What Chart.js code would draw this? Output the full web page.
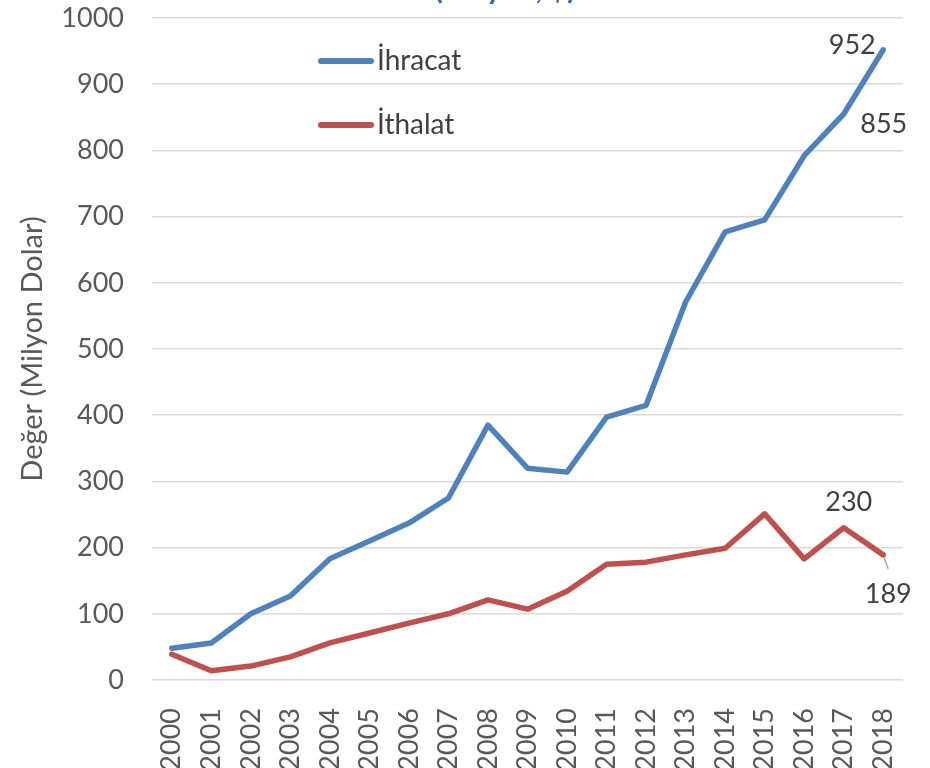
<!DOCTYPE html>
<html>
<head>
<meta charset="utf-8">
<script src="https://cdn.jsdelivr.net/npm/chart.js@4.4.0/dist/chart.umd.min.js"></script>
<style>
	html, body { margin: 0; padding: 0; background: #fff; }
	#wrap { width: 930px; height: 768px; }
</style>
</head>
<body>
<div id="wrap"><canvas id="tradeChart" width="930" height="768"></canvas></div>
<script>
const years = ['2000','2001','2002','2003','2004','2005','2006','2007','2008','2009',
	'2010','2011','2012','2013','2014','2015','2016','2017','2018']
const ihracat = [48, 56, 100, 127, 183, 210, 237, 275, 385, 320, 314, 397, 415, 571, 677, 695, 792, 855, 952]
const ithalat = [39, 14, 21, 35, 56, 71, 86, 100, 121, 107, 134, 175, 178, 189, 199, 251, 183, 230, 189]
const yTicks = [0, 100, 200, 300, 400, 500, 600, 700, 800, 900, 1000]
const titleTail = '(Milyon, $)'

const fontFamily = 'Lato, "Open Sans", "Liberation Sans", sans-serif'

//value labels for last two points of each series
const labelPlugin = {
	id: 'valueLabels',
	afterDatasetsDraw(chart) {
		const ctx = chart.ctx
		ctx.save()
		ctx.font = `27px ${fontFamily}`
		ctx.fillStyle = '#404040'
		ctx.textBaseline = 'middle'
		ctx.textAlign = 'center'

		const blue = chart.getDatasetMeta(0).data
		const red = chart.getDatasetMeta(1).data

		//952: left and above the point
		let p = blue[18]
		ctx.fillText(ihracat[18], p.x - 31, p.y - 4)
		//855: right and below
		p = blue[17]
		ctx.fillText(ihracat[17], p.x + 40, p.y + 10)
		//230: above
		p = red[17]
		ctx.fillText(ithalat[17], p.x + 5, p.y - 25)
		//189: below with leader line
		p = red[18]
		ctx.strokeStyle = '#a6a6a6'
		ctx.lineWidth = 1.5
		ctx.beginPath()
		ctx.moveTo(p.x + 1, p.y + 3)
		ctx.lineTo(p.x + 5, p.y + 14)
		ctx.stroke()
		ctx.fillText(ithalat[18], p.x + 5, p.y + 39)
		ctx.restore()
	}
}

//legend drawn inside the plot area
const legendPlugin = {
	id: 'innerLegend',
	afterDraw(chart) {
		const ctx = chart.ctx
		ctx.save()
		ctx.font = `28px ${fontFamily}`
		ctx.fillStyle = '#404040'
		ctx.textBaseline = 'middle'
		chart.data.datasets.forEach((ds, i) => {
			const y = 61 + i * 64
			ctx.strokeStyle = ds.borderColor
			ctx.lineWidth = 6
			ctx.lineCap = 'round'
			ctx.beginPath()
			ctx.moveTo(321, y)
			ctx.lineTo(371, y)
			ctx.stroke()
			ctx.fillText(ds.label, 377, y)
		})
		ctx.restore()
	}
}

//title clipped at the top of the picture
const titlePlugin = {
	id: 'clippedTitle',
	afterDraw(chart) {
		const ctx = chart.ctx
		ctx.save()
		ctx.font = `bold 30px ${fontFamily}`
		ctx.fillStyle = '#3565a8'
		ctx.textAlign = 'center'
		ctx.textBaseline = 'alphabetic'
		ctx.fillText(titleTail, 505, -1)
		ctx.restore()
	}
}

//fixed axis sizes so the plot area sits where the reference has it
const clearPadding = scale => {
	scale.paddingTop = 0
	scale.paddingBottom = 0
	scale.paddingLeft = 0
	scale.paddingRight = 0
}

new Chart(document.getElementById('tradeChart'), {
	type: 'line',
	data: {
		labels: years,
		datasets: [{
			label: 'İhracat',
			data: ihracat,
			borderColor: '#4f81bd',
			borderWidth: 5.5,
			pointRadius: 0,
			tension: 0,
			borderJoinStyle: 'round',
			borderCapStyle: 'round'
		}, {
			label: 'İthalat',
			data: ithalat,
			borderColor: '#c0504d',
			borderWidth: 5.5,
			pointRadius: 0,
			tension: 0,
			borderJoinStyle: 'round',
			borderCapStyle: 'round'
		}]
	},
	options: {
		responsive: false,
		animation: false,
		layout: {
			padding: { top: 18, right: 27, bottom: 0, left: 0 }
		},
		plugins: {
			legend: { display: false },
			tooltip: { enabled: false }
		},
		scales: {
			x: {
				offset: true,
				grid: { display: false },
				border: { display: false },
				afterFit: scale => {
					clearPadding(scale)
					scale.height = 88
				},
				ticks: {
					color: '#595959',
					font: { family: fontFamily, size: 27 },
					maxRotation: 90,
					minRotation: 90,
					padding: 20
				}
			},
			y: {
				min: 0,
				max: 1000,
				afterBuildTicks: axis => {
					axis.ticks = yTicks.map(v => ({ value: v }))
				},
				afterFit: scale => {
					clearPadding(scale)
					scale.width = 152
				},
				grid: {
					color: '#d9d9d9',
					lineWidth: 1.5,
					drawTicks: false
				},
				border: { display: false },
				ticks: {
					color: '#595959',
					font: { family: fontFamily, size: 27 },
					padding: 28,
					callback: v => String(v)
				},
				title: {
					display: true,
					text: 'Değer (Milyon Dolar)',
					color: '#595959',
					font: { family: fontFamily, size: 29 },
					padding: { top: 15, bottom: 10 }
				}
			}
		}
	},
	plugins: [labelPlugin, legendPlugin, titlePlugin]
})
</script>
</body>
</html>
